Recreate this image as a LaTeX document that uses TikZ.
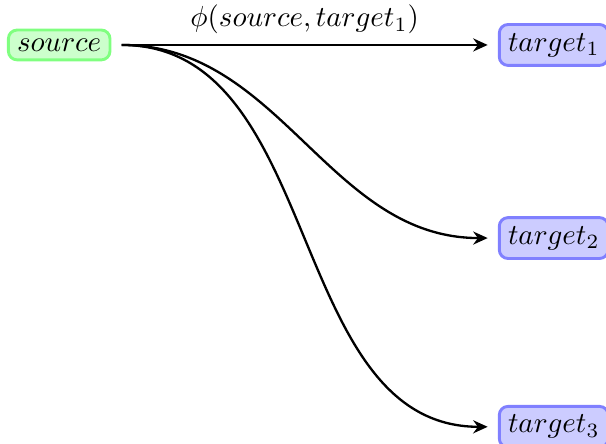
\documentclass[tikz,border=0pt]{standalone}
\usetikzlibrary{arrows.meta}
\begin{document}
\begin{tikzpicture}[
  srcbox/.style={draw=green!50, fill=green!20, line width=1pt, rounded corners=3pt, inner sep=3pt},
  tgtbox/.style={draw=blue!50, fill=blue!20, line width=1pt, rounded corners=3pt, inner sep=3pt},
  conn/.style={thick, -{Stealth[length=5pt,width=4.5pt]}, shorten <=3.5pt, shorten >=3.5pt}
]
\useasboundingbox (0,0) rectangle (209pt,-153.1pt);
\node[srcbox, anchor=west] (s) at (2.4pt,-15.5pt) {$source$};
\node[tgtbox, anchor=west] (t1) at (171.7pt,-15.5pt) {$target_1$};
\node[tgtbox, anchor=west] (t2) at (171.7pt,-82.1pt) {$target_2$};
\node[tgtbox, anchor=west] (t3) at (171.7pt,-147.2pt) {$target_3$};
\draw[conn] (s.east) -- node[above] {$\phi(source, target_1)$} (t1.west);
\draw[conn] (s.east) to[out=0,in=180] (t2.west);
\draw[conn] (s.east) to[out=0,in=180] (t3.west);
\end{tikzpicture}
\end{document}
